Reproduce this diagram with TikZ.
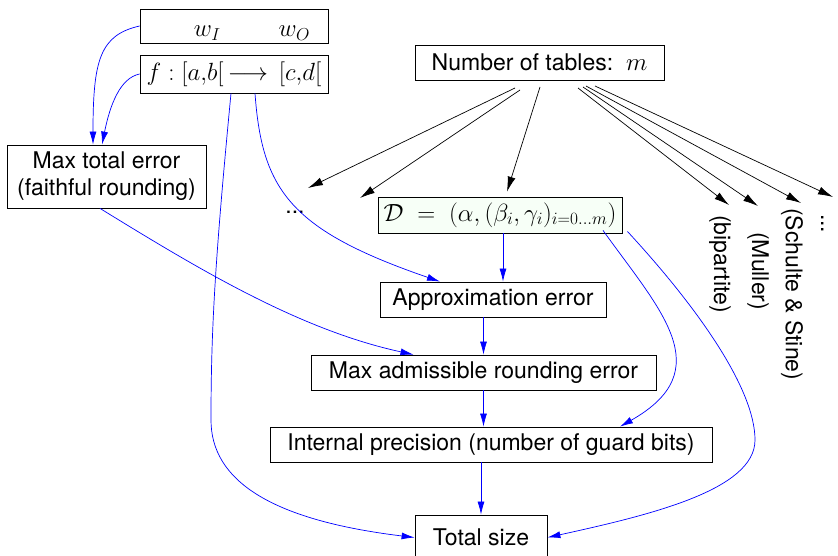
\documentclass[tikz,border=0pt]{standalone}
\usepackage{fontspec}
\setmainfont{TeX Gyre Heros}
\usetikzlibrary{arrows.meta}

\tikzset{
  box/.style={draw, line width=0.8pt, inner sep=0pt, minimum height=35pt},
  dep/.style={blue, line width=0.7pt, -{Latex[length=13pt,width=7pt]}},
  choice/.style={black, line width=0.7pt, -{Latex[length=15pt,width=8pt]}},
  vlabel/.style={rotate=-90, anchor=west, inner sep=0pt},
}

\begin{document}
\begin{tikzpicture}[x=1pt, y=-1pt, font=\fontsize{23}{27}\selectfont]
\useasboundingbox (0,0) rectangle (838,556);
% inputs
\node[box, minimum width=188pt, minimum height=34pt](wio) at (234,26) {};
\node[anchor=base](wlab) at (252,37) {$w_I\hspace{58pt}w_O$};
\node[box, minimum width=188pt, minimum height=38pt](fab) at (234,74) {$f:[a{,}b[\,\longrightarrow\,[c{,}d[$};
\node[box, minimum width=199pt, minimum height=63pt, align=center](maxerr) at (106.5,176.5) {Max total error\\(faithful rounding)};
\node[box, minimum width=249pt](ntab) at (539.5,62.5) {Number of tables:~~$m$};
% possible decompositions
\node[](dotsa) at (295,212) {...};
\node[box, minimum width=244pt, minimum height=36pt, fill=green!3](dpar) at (500,215) {$\mathcal{D}\;=\;(\alpha,(\beta_i,\gamma_i)_{i=0\ldots m})$};
\node[vlabel](bip) at (720,215) {(bipartite)};
\node[vlabel](mul) at (758,232) {(Muller)};
\node[vlabel](sch) at (792,208) {(Schulte \& Stine)};
\node[rotate=-90, anchor=base west, inner sep=0pt](dotsb) at (821,214) {...};
% error and size chain
\node[box, minimum width=226pt](approx) at (493,299.5) {Approximation error};
\node[box, minimum width=345pt](maxadm) at (483.5,372.5) {Max admissible rounding error};
\node[box, minimum width=442pt](intprec) at (491,444.5) {Internal precision (number of guard bits)};
\node[box, minimum width=132pt, minimum height=45pt](total) at (481,537.5) {Total size};

% choice of the table decomposition
\coordinate (ca) at (515,88);
\coordinate (cb) at (520,90);
\coordinate (cc) at (540,87);
\coordinate (cd) at (578,88);
\coordinate (ce) at (583,87);
\coordinate (cf) at (586,86);
\coordinate (cg) at (595,86);
\coordinate (ta) at (308,188);
\coordinate (tb) at (360,198);
\coordinate (td) at (729,205);
\coordinate (te) at (758,206);
\coordinate (tf) at (801,203);
\coordinate (tg) at (833,197);
\draw[choice] (ca) -- (ta);
\draw[choice] (cb) -- (tb);
\draw[choice] (cc) -- ([xshift=7,yshift=5]dpar.north);
\draw[choice] (cd) -- (td);
\draw[choice] (ce) -- (te);
\draw[choice] (cf) -- (tf);
\draw[choice] (cg) -- (tg);

% dependencies
\draw[dep] (wio.west) .. controls (100,35) and (93,60) .. ([xshift=-13.5]maxerr.north);
\draw[dep] (fab.west) .. controls (120,78) and (110,105) .. ([xshift=-4.5]maxerr.north);
\draw[dep] ([xshift=-3]fab.south) .. controls (215,260) and (211,330) .. (211,420)
  .. controls (211,480) and (270,520) .. (total.west);
\draw[dep] ([xshift=21]fab.south) .. controls (262,190) and (290,230) .. ([xshift=-53]approx.north);
\draw[dep] ([xshift=-6.5]maxerr.south) .. controls (200,270) and (300,330) .. ([xshift=-70]maxadm.north);
\draw[dep] ([xshift=3]dpar.south) -- ([xshift=10]approx.north);
\draw[dep] (approx.south -| maxadm.north) -- (maxadm.north);
\draw[dep] (maxadm.south) -- (maxadm.south |- intprec.north);
\draw[dep] (intprec.south -| total.north) -- (total.north);
\draw[dep] ([xshift=103,yshift=3]dpar.south) .. controls (660,310) and (720,370) .. ([xshift=129]intprec.north);
\draw[dep] ([xshift=5,yshift=2]dpar.south east) .. controls (700,310) and (755,390) .. (755,440)
  .. controls (755,490) and (650,515) .. (total.east);
\end{tikzpicture}
\end{document}
